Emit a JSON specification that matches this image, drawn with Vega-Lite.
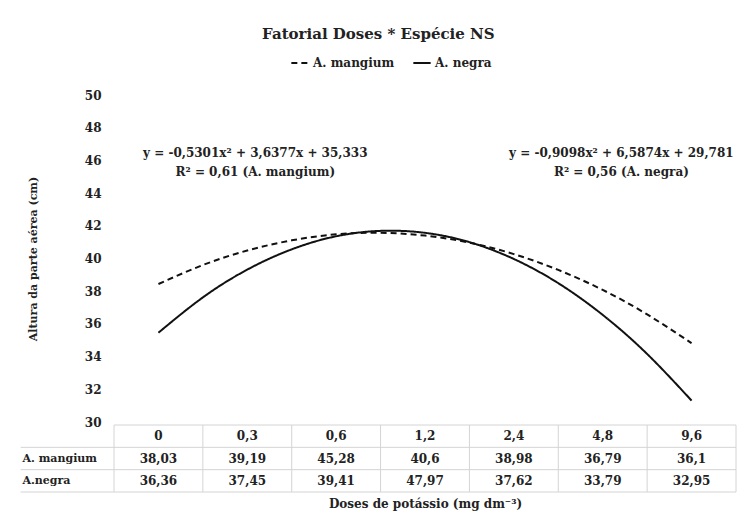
{
  "$schema": "https://vega.github.io/schema/vega-lite/v6.json",
  "background": "white",
  "padding": {"left": 20, "top": 27, "right": 5, "bottom": 8},
  "bounds": "flush",
  "spacing": 3,
  "title": {"text": "Fatorial Doses * Espécie NS", "font": "DejaVu Serif", "fontSize": 15, "fontWeight": "bold", "anchor": "middle", "color": "#222222", "offset": 11},
  "config": {"font": "DejaVu Serif", "view": {"stroke": null}, "axis": {"labelOverlap": false}},
  "datasets": {
    "curvas": [
      {"serie": "A. mangium", "pos": 1, "altura": 38.44},
      {"serie": "A. mangium", "pos": 1.5, "altura": 39.6},
      {"serie": "A. mangium", "pos": 2, "altura": 40.49},
      {"serie": "A. mangium", "pos": 2.5, "altura": 41.11},
      {"serie": "A. mangium", "pos": 3, "altura": 41.48},
      {"serie": "A. mangium", "pos": 3.5, "altura": 41.57},
      {"serie": "A. mangium", "pos": 4, "altura": 41.4},
      {"serie": "A. mangium", "pos": 4.5, "altura": 40.97},
      {"serie": "A. mangium", "pos": 5, "altura": 40.27},
      {"serie": "A. mangium", "pos": 5.5, "altura": 39.3},
      {"serie": "A. mangium", "pos": 6, "altura": 38.08},
      {"serie": "A. mangium", "pos": 6.5, "altura": 36.58},
      {"serie": "A. mangium", "pos": 7, "altura": 34.82},
      {"serie": "A. negra", "pos": 1, "altura": 35.46},
      {"serie": "A. negra", "pos": 1.5, "altura": 37.62},
      {"serie": "A. negra", "pos": 2, "altura": 39.32},
      {"serie": "A. negra", "pos": 2.5, "altura": 40.56},
      {"serie": "A. negra", "pos": 3, "altura": 41.36},
      {"serie": "A. negra", "pos": 3.5, "altura": 41.69},
      {"serie": "A. negra", "pos": 4, "altura": 41.57},
      {"serie": "A. negra", "pos": 4.5, "altura": 41.0},
      {"serie": "A. negra", "pos": 5, "altura": 39.97},
      {"serie": "A. negra", "pos": 5.5, "altura": 38.49},
      {"serie": "A. negra", "pos": 6, "altura": 36.55},
      {"serie": "A. negra", "pos": 6.5, "altura": 34.16},
      {"serie": "A. negra", "pos": 7, "altura": 31.31}
    ],
    "equacoes": [
      {"serie": "A. mangium", "texto": ["y = -0,5301x² + 3,6377x + 35,333", "R² = 0,61 (A. mangium)"]},
      {"serie": "A. negra", "texto": ["y = -0,9098x² + 6,5874x + 29,781", "R² = 0,56 (A. negra)"]}
    ],
    "tabela": [
      {"linha": 0.5, "pos": 1, "valor": "0"},
      {"linha": 0.5, "pos": 2, "valor": "0,3"},
      {"linha": 0.5, "pos": 3, "valor": "0,6"},
      {"linha": 0.5, "pos": 4, "valor": "1,2"},
      {"linha": 0.5, "pos": 5, "valor": "2,4"},
      {"linha": 0.5, "pos": 6, "valor": "4,8"},
      {"linha": 0.5, "pos": 7, "valor": "9,6"},
      {"linha": 1.5, "pos": 1, "valor": "38,03"},
      {"linha": 1.5, "pos": 2, "valor": "39,19"},
      {"linha": 1.5, "pos": 3, "valor": "45,28"},
      {"linha": 1.5, "pos": 4, "valor": "40,6"},
      {"linha": 1.5, "pos": 5, "valor": "38,98"},
      {"linha": 1.5, "pos": 6, "valor": "36,79"},
      {"linha": 1.5, "pos": 7, "valor": "36,1"},
      {"linha": 2.5, "pos": 1, "valor": "36,36"},
      {"linha": 2.5, "pos": 2, "valor": "37,45"},
      {"linha": 2.5, "pos": 3, "valor": "39,41"},
      {"linha": 2.5, "pos": 4, "valor": "47,97"},
      {"linha": 2.5, "pos": 5, "valor": "37,62"},
      {"linha": 2.5, "pos": 6, "valor": "33,79"},
      {"linha": 2.5, "pos": 7, "valor": "32,95"}
    ],
    "rotulos": [
      {"linha": 1.5, "pos": -0.53, "valor": "A. mangium"},
      {"linha": 2.5, "pos": -0.53, "valor": "A.negra"}
    ],
    "horizontais": [
      {"y": 0, "x1": 0.5, "x2": 7.5},
      {"y": 1, "x1": -0.55, "x2": 7.5},
      {"y": 2, "x1": -0.55, "x2": 7.5},
      {"y": 3, "x1": -0.55, "x2": 7.5}
    ],
    "verticais": [
      {"x": 0.5, "y1": 0, "y2": 3},
      {"x": 1.5, "y1": 0, "y2": 3},
      {"x": 2.5, "y1": 0, "y2": 3},
      {"x": 3.5, "y1": 0, "y2": 3},
      {"x": 4.5, "y1": 0, "y2": 3},
      {"x": 5.5, "y1": 0, "y2": 3},
      {"x": 6.5, "y1": 0, "y2": 3},
      {"x": 7.5, "y1": 0, "y2": 3}
    ]
  },
  "vconcat": [
    {
      "width": 622,
      "height": 327,
      "encoding": {
        "y": {"type": "quantitative", "scale": {"domain": [30, 50], "nice": false, "zero": false},
              "axis": {"values": [30, 32, 34, 36, 38, 40, 42, 44, 46, 48, 50], "title": "Altura da parte aérea (cm)", "domain": false, "ticks": false, "grid": false, "labelOverlap": false,
                       "labelFontWeight": "bold", "labelFontSize": 12, "labelColor": "#222222", "labelPadding": 13,
                       "titleFontWeight": "bold", "titleFontSize": 11, "titleColor": "#222222", "titlePadding": 46}}
      },
      "layer": [
        {
          "data": {"name": "curvas"},
          "mark": {"type": "line", "interpolate": "natural", "strokeWidth": 2},
          "encoding": {
            "x": {"field": "pos", "type": "quantitative", "scale": {"domain": [0.5, 7.5], "nice": false, "zero": false}, "axis": null},
            "y": {"field": "altura"},
            "color": {"field": "serie", "type": "nominal", "scale": {"domain": ["A. mangium", "A. negra"], "range": ["#111111", "#111111"]},
                      "legend": {"title": null, "orient": "none", "legendX": 176, "legendY": -42, "direction": "horizontal", "symbolType": "stroke", "symbolStrokeWidth": 2, "symbolSize": 300,
                                 "labelFontWeight": "bold", "labelFontSize": 12, "labelColor": "#222222", "columnPadding": 14, "labelOffset": 3}},
            "strokeDash": {"field": "serie", "type": "nominal", "scale": {"domain": ["A. mangium", "A. negra"], "range": [[6, 4], [1, 0]]},
                           "legend": {"title": null, "orient": "none", "legendX": 176, "legendY": -42, "direction": "horizontal", "symbolType": "stroke", "symbolStrokeWidth": 2, "symbolSize": 300,
                                      "labelFontWeight": "bold", "labelFontSize": 12, "labelColor": "#222222", "columnPadding": 14, "labelOffset": 3}}
          }
        },
        {
          "data": {"name": "equacoes"},
          "transform": [{"filter": "datum.serie == 'A. mangium'"}],
          "mark": {"type": "text", "fontWeight": "bold", "fontSize": 12, "color": "#222222", "lineHeight": 19, "baseline": "middle"},
          "encoding": {
            "x": {"datum": 2.09, "type": "quantitative"},
            "y": {"datum": 46.43},
            "text": {"field": "texto"}
          }
        },
        {
          "data": {"name": "equacoes"},
          "transform": [{"filter": "datum.serie == 'A. negra'"}],
          "mark": {"type": "text", "fontWeight": "bold", "fontSize": 12, "color": "#222222", "lineHeight": 19, "baseline": "middle"},
          "encoding": {
            "x": {"datum": 6.21, "type": "quantitative"},
            "y": {"datum": 46.43},
            "text": {"field": "texto"}
          }
        }
      ]
    },
    {
      "width": 622,
      "height": 67,
      "layer": [
        {
          "data": {"name": "horizontais"},
          "mark": {"type": "rule", "color": "#d4d4d4", "strokeWidth": 1},
          "encoding": {
            "x": {"field": "x1", "type": "quantitative", "scale": {"domain": [0.5, 7.5], "nice": false, "zero": false},
                  "axis": {"title": "Doses de potássio (mg dm⁻³)", "labels": false, "ticks": false, "domain": false, "grid": false,
                           "titleFontWeight": "bold", "titleFontSize": 12, "titleColor": "#222222", "titlePadding": 6}},
            "x2": {"field": "x2"},
            "y": {"field": "y", "type": "quantitative", "scale": {"domain": [0, 3], "reverse": true, "nice": false, "zero": false}, "axis": null}
          }
        },
        {
          "data": {"name": "verticais"},
          "mark": {"type": "rule", "color": "#d4d4d4", "strokeWidth": 1},
          "encoding": {
            "x": {"field": "x", "type": "quantitative"},
            "y": {"field": "y1", "type": "quantitative"},
            "y2": {"field": "y2"}
          }
        },
        {
          "data": {"name": "tabela"},
          "mark": {"type": "text", "fontWeight": "bold", "fontSize": 12, "color": "#222222", "baseline": "middle"},
          "encoding": {
            "x": {"field": "pos", "type": "quantitative"},
            "y": {"field": "linha", "type": "quantitative"},
            "text": {"field": "valor"}
          }
        },
        {
          "data": {"name": "rotulos"},
          "mark": {"type": "text", "fontWeight": "bold", "fontSize": 11, "color": "#222222", "baseline": "middle", "align": "left"},
          "encoding": {
            "x": {"field": "pos", "type": "quantitative"},
            "y": {"field": "linha", "type": "quantitative"},
            "text": {"field": "valor"}
          }
        }
      ]
    }
  ]
}
